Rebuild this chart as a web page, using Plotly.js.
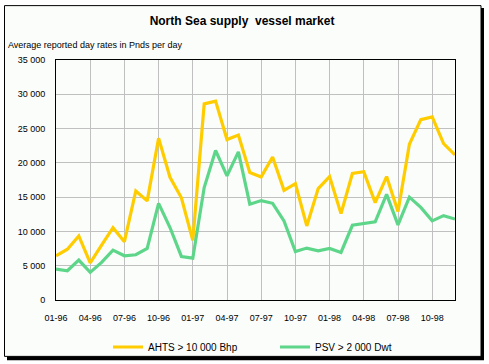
<!DOCTYPE html>
<html>
<head>
<meta charset="utf-8">
<script src="https://cdn.plot.ly/plotly-3.0.1.min.js"></script>
<style>
html,body{margin:0;padding:0;background:#ffffff;}
#chart{width:489px;height:364px;}
</style>
</head>
<body>
<div id="chart"></div>
<script>
// Months (category axis)
const months = [
  "01-96","02-96","03-96","04-96","05-96","06-96","07-96","08-96","09-96","10-96","11-96","12-96",
  "01-97","02-97","03-97","04-97","05-97","06-97","07-97","08-97","09-97","10-97","11-97","12-97",
  "01-98","02-98","03-98","04-98","05-98","06-98","07-98","08-98","09-98","10-98","11-98","12-98"
];
// Tick labels shown on the x axis
const tickLabels = ["01-96","04-96","07-96","10-96","01-97","04-97","07-97","10-97","01-98","04-98","07-98","10-98"];

// AHTS > 10 000 Bhp (Pnds per day)
const ahts = [
  6450, 7400, 9350, 5400, 8000, 10550, 8500, 15900, 14450, 23600, 17900, 14900,
  8700, 28600, 29000, 23400, 24050, 18600, 17950, 20850, 16000, 16970, 10800, 16250,
  18000, 12600, 18450, 18700, 14200, 18000, 12900, 22700, 26300, 26700, 22800, 21150
];
// PSV > 2 000 Dwt (Pnds per day)
const psv = [
  4500, 4270, 5820, 4030, 5480, 7270, 6450, 6600, 7520, 14100, 10570, 6350,
  6100, 16400, 21800, 18100, 21600, 13970, 14500, 14100, 11540, 7080, 7570, 7180,
  7520, 6940, 10900, 11200, 11400, 15400, 10960, 15000, 13500, 11540, 12300, 11800
];

const seriesNames = ["AHTS > 10 000 Bhp", "PSV > 2 000 Dwt"];

const W = 489, H = 364;
const L = 56, R = 455, T = 60, B = 300.5;
const px = x => (x - L) / (R - L);
const py = y => (B - y) / (B - T);

const font = "'Liberation Sans', Arial, sans-serif";

const traces = [
  {x: months, y: ahts, name: seriesNames[0], type: 'scatter', mode: 'lines',
   line: {color: '#ffcc00', width: 3.2}, legend: 'legend'},
  {x: months, y: psv, name: seriesNames[1], type: 'scatter', mode: 'lines',
   line: {color: '#5ed68a', width: 3.2}, legend: 'legend2'}
];

const legendBase = {
  orientation: 'h',
  xref: 'container', yref: 'container',
  xanchor: 'left',
  y: 1 - 347 / H, yanchor: 'middle',
  bgcolor: 'rgba(0,0,0,0)',
  font: {family: font, size: 10, color: '#000'},
  itemwidth: 30
};

const layout = {
  width: W, height: H,
  margin: {l: L, r: W - R, t: T, b: H - B, pad: 0},
  paper_bgcolor: '#ffffff',
  plot_bgcolor: 'rgba(0,0,0,0)',
  separators: ', ',
  font: {family: font, size: 10, color: '#000'},
  title: {
    text: '<b>North Sea supply  vessel market</b>',
    font: {family: font, size: 12, color: '#000'},
    x: 242 / W, xref: 'container', xanchor: 'center',
    y: 1 - 21 / H, yref: 'container', yanchor: 'middle'
  },
  xaxis: {
    type: 'category',
    range: [0, months.length - 1],
    tickmode: 'array',
    tickvals: tickLabels,
    ticktext: tickLabels,
    showgrid: true, gridcolor: '#c0c0c0', gridwidth: 1,
    showline: true, linecolor: '#000', linewidth: 1, mirror: true,
    ticks: '', ticklabelstandoff: 9,
    tickfont: {family: font, size: 9, color: '#000'},
    zeroline: false, fixedrange: true
  },
  yaxis: {
    range: [0, 35000],
    tickmode: 'linear', tick0: 0, dtick: 5000,
    tickformat: ',d',
    showgrid: true, gridcolor: '#c0c0c0', gridwidth: 1,
    showline: true, linecolor: '#000', linewidth: 1, mirror: true,
    ticks: '', ticklabelstandoff: 8,
    tickfont: {family: font, size: 9, color: '#000'},
    zeroline: false, fixedrange: true
  },
  showlegend: true,
  legend: Object.assign({}, legendBase, {x: 108 / W}),
  legend2: Object.assign({}, legendBase, {x: 275 / W}),
  shapes: [
    {type: 'rect', xref: 'paper', yref: 'paper', layer: 'below',
     x0: px(7), x1: px(484), y0: py(8), y1: py(361),
     fillcolor: '#000', line: {width: 0}},
    {type: 'rect', xref: 'paper', yref: 'paper', layer: 'below',
     x0: px(4.5), x1: px(481), y0: py(5.5), y1: py(357),
     fillcolor: '#fbfdfb', line: {color: '#000', width: 1}}
  ],
  annotations: [
    {text: 'Average reported day rates in Pnds per day', xref: 'paper', yref: 'paper',
     x: px(6), y: py(45), xanchor: 'left', yanchor: 'middle', showarrow: false,
     font: {family: font, size: 9, color: '#000'}}
  ]
};

Plotly.newPlot('chart', traces, layout, {displayModeBar: false, staticPlot: true});
</script>
</body>
</html>
